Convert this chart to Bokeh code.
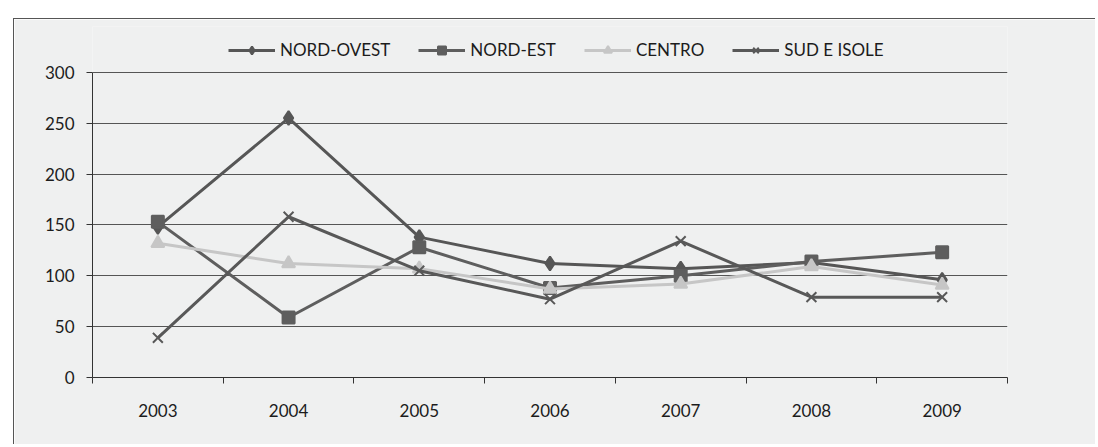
from bokeh.plotting import figure
from bokeh.models import Range1d, FixedTicker, Legend, LegendItem
from bokeh.embed import file_html
from bokeh.resources import INLINE

years = ["2003", "2004", "2005", "2006", "2007", "2008", "2009"]
nord_ovest = [148, 255, 138, 112, 107, 113, 96]
nord_est = [153, 59, 128, 88, 100, 114, 123]
centro = [132, 112, 107, 87, 92, 109, 91]
sud_isole = [39, 158, 105, 77, 134, 79, 79]
y_ticks = [0, 50, 100, 150, 200, 250, 300]

xs = [i + 0.5 for i in range(len(years))]
BG = "#eff0f0"
FONT = "Lato"
TXT = "#1c1c1c"

p = figure(width=1082, height=426, output_backend="svg", toolbar_location=None,
           x_range=Range1d(0, len(years)), y_range=Range1d(0, 345),
           min_border_left=78, min_border_right=89, min_border_top=7, min_border_bottom=68,
           background_fill_color=BG, border_fill_color=BG, outline_line_color=None)
p.styles = {"margin-left": "13px", "margin-top": "18px",
            "border-left": "1px solid #555", "border-top": "1px solid #555"}

# x axis
p.xaxis.ticker = FixedTicker(ticks=xs, minor_ticks=list(range(len(years) + 1)))
p.xaxis.major_label_overrides = {x: y for x, y in zip(xs, years)}
p.xaxis.major_tick_line_color = None
p.xaxis.minor_tick_line_color = "#333"
p.xaxis.minor_tick_out = 6
p.xaxis.minor_tick_in = 0
p.xaxis.axis_line_color = "#333"
p.xaxis.major_label_standoff = 20
p.xaxis.major_label_text_font = FONT
p.xaxis.major_label_text_font_size = "17px"
p.xaxis.major_label_text_color = TXT
p.xgrid.grid_line_color = None

# y axis
p.yaxis.ticker = FixedTicker(ticks=y_ticks)
p.yaxis.bounds = (0, 300)
p.yaxis.major_tick_out = 6
p.yaxis.major_tick_in = 0
p.yaxis.major_tick_line_color = "#333"
p.yaxis.minor_tick_line_color = None
p.yaxis.axis_line_color = "#333"
p.yaxis.major_label_standoff = 12
p.yaxis.major_label_text_font = FONT
p.yaxis.major_label_text_font_size = "17px"
p.yaxis.major_label_text_color = TXT
p.ygrid.grid_line_color = "#555"
p.ygrid.grid_line_width = 1

series = [
    ("NORD-OVEST", nord_ovest, "#565656", "diamond", 14),
    ("NORD-EST", nord_est, "#5e5e5e", "square", 12),
    ("CENTRO", centro, "#c6c6c6", "triangle", 13),
    ("SUD E ISOLE", sud_isole, "#585858", "x", 14),
]
items = []
for name, vals, col, marker, size in series:
    r1 = p.line(xs, vals, line_color=col, line_width=3)
    r2 = p.scatter(xs, vals, marker=marker, size=size, fill_color=col, line_color=col, line_width=2)
    items.append(LegendItem(label=name, renderers=[r1, r2]))

legend = Legend(items=items, orientation="horizontal", location=(136, 317),
                background_fill_alpha=0, border_line_color=None,
                label_text_font=FONT, label_text_font_size="17px", label_text_color=TXT,
                glyph_width=47, spacing=28, label_standoff=5, padding=2, margin=0)
p.add_layout(legend, "center")

html = file_html(p, INLINE)
html = html.replace("<body>", '<body style="background-color: %s;">' % BG, 1)
open("out.html", "w").write(html)
